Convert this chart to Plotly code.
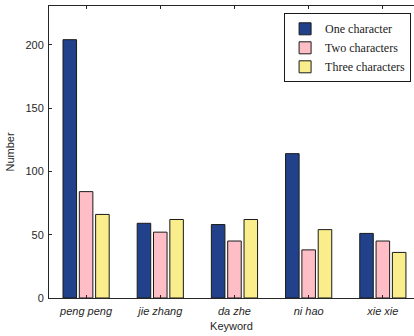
import plotly.graph_objects as go

keywords = ["peng peng", "jie zhang", "da zhe", "ni hao", "xie xie"]
one_char = [204, 59, 58, 114, 51]
two_char = [84, 52, 45, 38, 45]
three_char = [66, 62, 62, 54, 36]
series_names = ["One character", "Two characters", "Three characters"]
colors = ["#21428A", "#FFBEC6", "#FAEE8C"]
y_ticks = [0, 50, 100, 150, 200]

fig = go.Figure()
for name, vals, col in zip(series_names, [one_char, two_char, three_char], colors):
    fig.add_trace(go.Bar(
        x=keywords, y=vals, name=name,
        marker=dict(color=col, line=dict(color="#1a1a1a", width=1)),
    ))

fig.update_layout(
    width=414, height=336,
    margin=dict(l=49, r=0, t=6, b=38, autoexpand=False),
    plot_bgcolor="white", paper_bgcolor="white",
    barmode="group", bargap=0.34, bargroupgap=0.17,
    font=dict(family="Liberation Sans, Arial", size=11, color="#262626"),
    legend=dict(
        x=0.992, y=0.975, xanchor="right", yanchor="top",
        bgcolor="white", bordercolor="#1a1a1a", borderwidth=1,
        font=dict(family="Liberation Serif, Times New Roman", size=12, color="#1a1a1a"),
        tracegroupgap=0, itemwidth=30,
    ),
    showlegend=True,
)
fig.update_xaxes(
    range=[-0.5, 4.42], automargin=False,
    showline=True, linecolor="#262626", linewidth=1, mirror="ticks",
    ticks="inside", ticklen=3, tickcolor="#262626", ticklabelstandoff=3,
    tickfont=dict(family="Liberation Sans, Arial", size=11, style="italic"),
    title=dict(text="Keyword", standoff=6, font=dict(size=11)),
    showgrid=False,
)
fig.update_yaxes(
    range=[0, 230.6], tickvals=y_ticks, automargin=False,
    showline=True, linecolor="#262626", linewidth=1, mirror=False,
    ticks="inside", ticklen=3, tickcolor="#262626", ticklabelstandoff=2,
    title=dict(text="Number", standoff=8, font=dict(size=11)),
    showgrid=False, zeroline=False,
)
fig.write_html("out.html", config={"displayModeBar": False},
               post_script="document.body.style.margin='0';document.body.style.overflow='hidden';")
